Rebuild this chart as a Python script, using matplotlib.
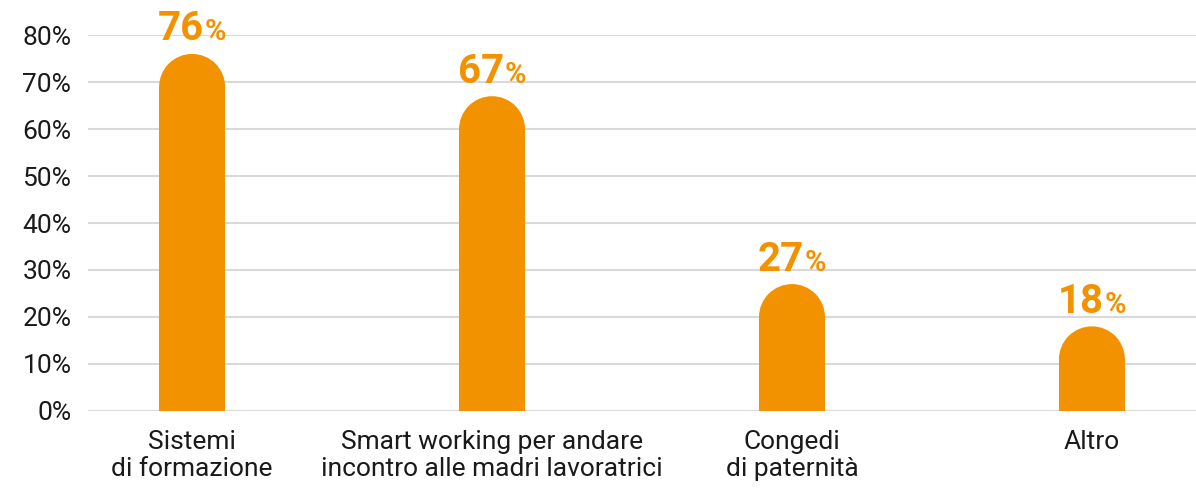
import numpy as np
import matplotlib.pyplot as plt
from matplotlib.patches import Rectangle, Ellipse
from matplotlib.offsetbox import TextArea, HPacker, AnnotationBbox

plt.rcParams['font.family'] = ['Roboto', 'DejaVu Sans']

categories = ['Sistemi\ndi formazione',
              'Smart working per andare\nincontro alle madri lavoratrici',
              'Congedi\ndi paternità',
              'Altro']
values = [76, 67, 27, 18]
yticks = [0, 10, 20, 30, 40, 50, 60, 70, 80]

orange = '#F39200'
bar_w = 0.22

fig = plt.figure(figsize=(11.96, 4.88), dpi=100)
ax = fig.add_axes([0.0736, 0.158, 0.9264, 0.770])
ax.set_xlim(-0.347, 3.347)
ax.set_ylim(0, 80)

# radius of the rounded cap, converted to y data units
px_x = ax.transData.transform((1, 0))[0] - ax.transData.transform((0, 0))[0]
px_y = ax.transData.transform((0, 1))[1] - ax.transData.transform((0, 0))[1]
r_px = bar_w * px_x / 2
r_y = r_px / px_y

x = np.arange(len(categories))
for xi, v in zip(x, values):
    ax.add_patch(Rectangle((xi - bar_w / 2, 0), bar_w, v - r_y,
                           facecolor=orange, edgecolor='none', zorder=3))
    ax.add_patch(Ellipse((xi, v - r_y), bar_w, 2 * r_y,
                         facecolor=orange, edgecolor='none', zorder=3))
    num = TextArea(str(v), textprops=dict(color=orange, fontsize=29, fontweight='bold'))
    pct = TextArea('%', textprops=dict(color=orange, fontsize=21, fontweight='bold'))
    box = HPacker(children=[num, pct], align='baseline', pad=0, sep=1)
    ab = AnnotationBbox(box, (xi, v), xybox=(0, 4), xycoords='data',
                        boxcoords='offset points', box_alignment=(0.5, 0),
                        frameon=False, annotation_clip=False)
    ax.add_artist(ab)

ax.set_xticks(x)
ax.set_xticklabels(categories, fontsize=19, color='#1a1a1a', linespacing=1.15)
ax.set_yticks(yticks)
ax.set_yticklabels([f'{t}%' for t in yticks], fontsize=19, color='#1a1a1a')
ax.tick_params(axis='both', length=0)
ax.tick_params(axis='y', pad=12)
ax.tick_params(axis='x', pad=14)

ax.yaxis.grid(True, color='#d9d9d9', linewidth=1.5, zorder=0)
ax.set_axisbelow(True)
for s in ax.spines.values():
    s.set_visible(False)

fig.savefig('out.png', dpi=100)
